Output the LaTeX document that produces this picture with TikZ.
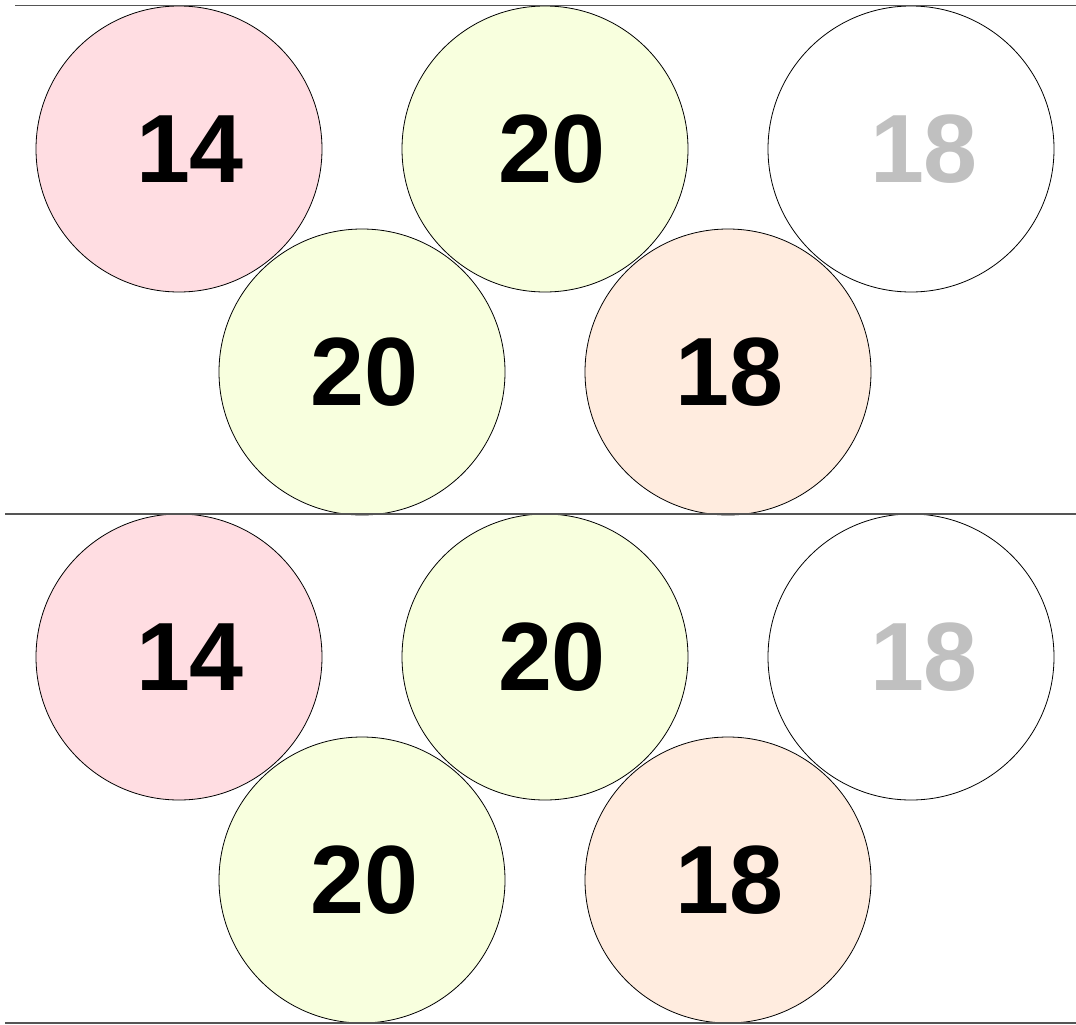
\documentclass[tikz,border=0pt]{standalone}
\usepackage{fontspec}
\setmainfont{Liberation Sans}
\usetikzlibrary{positioning}
\definecolor{rose}{HTML}{FFDDE2}
\definecolor{lime}{HTML}{F8FFDE}
\definecolor{peach}{HTML}{FFECDF}
\definecolor{ghost}{HTML}{C0C0C0}
\definecolor{rule}{HTML}{555555}
\tikzset{
  ball/.style={circle,draw=black,line width=0.8pt,minimum size=286pt,inner sep=0pt},
  red ball/.style={ball,fill=rose},
  green ball/.style={ball,fill=lime},
  orange ball/.style={ball,fill=peach},
  empty ball/.style={ball,fill=white},
  num/.style={inner sep=0pt,font=\fontsize{97}{97}\selectfont\bfseries},
  faint/.style={num,text=ghost},
  divider/.style={draw=rule,line width=1.3pt}
}
\begin{document}
\begin{tikzpicture}[x=1pt,y=-1pt]
\useasboundingbox (0,0) rectangle (1076,1025);

% first panel
\node[red ball] (a14) at (179,149) {};
\node[green ball] (a20) at (545,149) {};
\node[empty ball] (a18) at (911,149) {};
\node[green ball] (b20) at (362,372) {};
\node[orange ball] (b18) at (728,372) {};
\node[num] (a14 text) at ([xshift=11pt]a14.center) {14};
\node[num] (a20 text) at ([xshift=7pt]a20.center) {20};
\node[faint] (a18 text) at ([xshift=13pt]a18.center) {18};
\node[num] (b20 text) at ([xshift=2.5pt]b20.center) {20};
\node[num] (b18 text) at ([xshift=1.5pt]b18.center) {18};

% second panel
\node[red ball] (c14) at (179,657) {};
\node[green ball] (c20) at (545,657) {};
\node[empty ball] (c18) at (911,657) {};
\node[green ball] (d20) at (362,880) {};
\node[orange ball] (d18) at (728,880) {};
\node[num] (c14 text) at ([xshift=11pt]c14.center) {14};
\node[num] (c20 text) at ([xshift=7pt]c20.center) {20};
\node[faint] (c18 text) at ([xshift=13pt]c18.center) {18};
\node[num] (d20 text) at ([xshift=2.5pt]d20.center) {20};
\node[num] (d18 text) at ([xshift=1.5pt]d18.center) {18};

% rules
\coordinate (top w) at (15,5.5);
\coordinate (top e) at (1076,5.5);
\coordinate (mid w) at (5,514);
\coordinate (mid e) at (1076,514);
\coordinate (bot w) at (5,1023);
\coordinate (bot e) at (1076,1023);
\draw[divider] (top w) -- (top e);
\draw[divider] (mid w) -- (mid e);
\draw[divider] (bot w) -- (bot e);
\end{tikzpicture}
\end{document}
